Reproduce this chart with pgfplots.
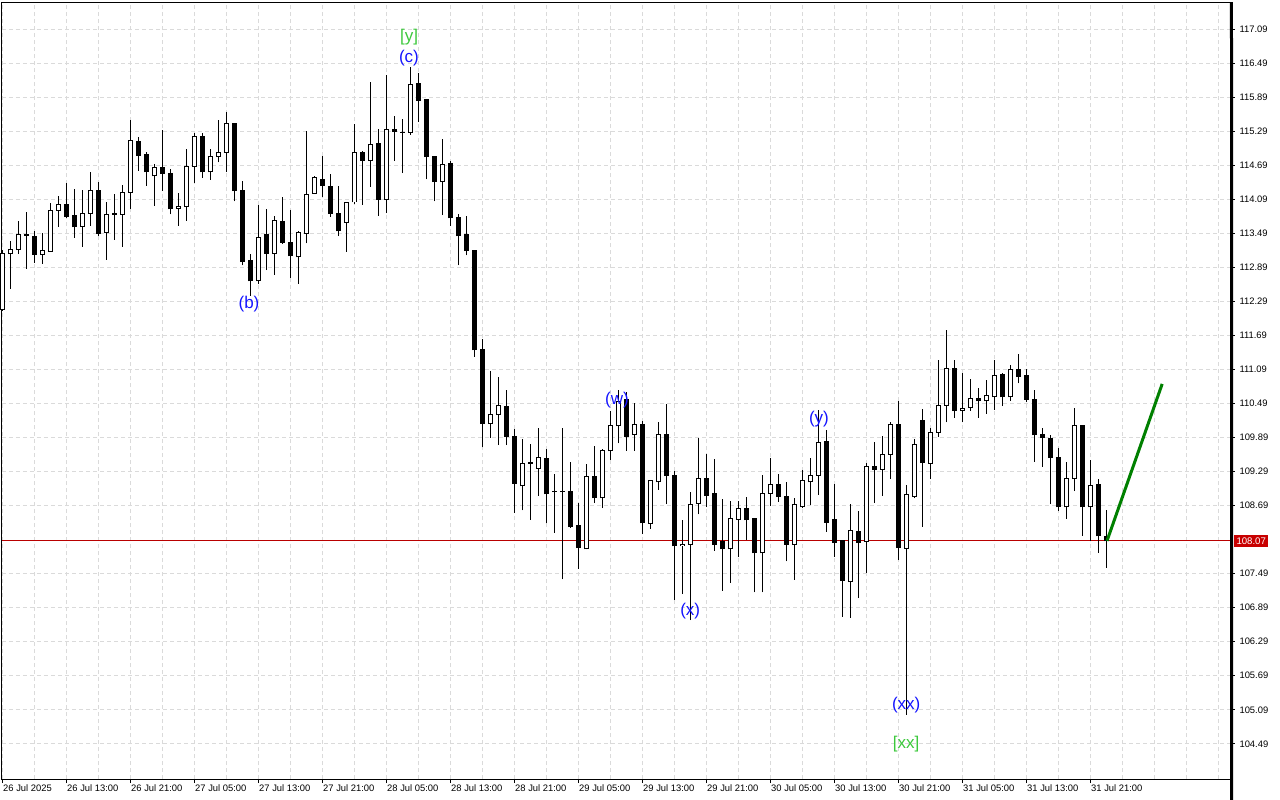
\documentclass[border=0pt]{standalone}
\usepackage{pgfplots}
\pgfplotsset{compat=1.18}
\usepackage{pgfplotstable}
\usepackage{fontspec}
\setmainfont{Liberation Sans}
\definecolor{pricered}{RGB}{200,0,0}
\definecolor{linered}{RGB}{185,0,0}
\definecolor{wblue}{RGB}{20,20,255}
\definecolor{wgreen}{RGB}{60,200,60}
\definecolor{arrowgreen}{RGB}{0,128,0}
\definecolor{gridgray}{RGB}{218,218,218}
\pgfplotstableread{
i o h l c
0 112.16 113.20 112.13 113.15
1 113.14 113.36 112.52 113.21
2 113.21 113.71 113.14 113.48
3 113.48 113.87 112.87 113.46
4 113.45 113.54 112.98 113.13
5 113.13 113.50 112.96 113.19
6 113.18 114.04 113.17 113.90
7 113.90 114.16 113.61 114.01
8 114.01 114.38 113.77 113.79
9 113.82 114.28 113.42 113.61
10 113.62 114.26 113.26 113.85
11 113.85 114.58 113.63 114.26
12 114.26 114.40 113.45 113.50
13 113.51 114.05 113.03 113.83
14 113.83 114.19 113.38 113.84
15 113.83 114.35 113.26 114.22
16 114.22 115.50 113.93 115.13
17 115.11 115.20 114.60 114.87
18 114.88 114.94 114.34 114.58
19 114.51 114.72 113.98 114.66
20 114.66 115.32 114.25 114.55
21 114.56 114.64 113.83 113.93
22 113.94 114.20 113.63 113.97
23 113.97 114.98 113.72 114.68
24 114.68 115.26 114.39 115.21
25 115.21 115.26 114.48 114.58
26 114.58 114.98 114.44 114.85
27 114.85 115.50 114.75 114.93
28 114.93 115.63 114.58 115.44
29 115.43 115.45 114.06 114.25
30 114.26 114.42 112.93 113.00
31 113.01 113.14 112.40 112.66
32 112.66 114.00 112.60 113.43
33 113.47 113.93 112.85 113.15
34 113.15 113.80 112.77 113.73
35 113.71 114.13 113.31 113.34
36 113.34 113.90 112.71 113.10
37 113.08 113.54 112.61 113.51
38 113.50 115.31 113.32 114.19
39 114.20 114.51 114.19 114.48
40 114.45 114.86 114.14 114.34
41 114.33 114.54 113.79 113.85
42 113.85 114.33 113.45 113.54
43 113.69 114.04 113.17 114.04
44 114.05 115.42 114.01 114.93
45 114.93 114.95 114.00 114.78
46 114.79 116.16 114.32 115.07
47 115.09 115.33 113.81 114.10
48 114.10 116.29 113.86 115.33
49 115.33 115.57 114.78 115.30
50 115.28 115.51 114.56 115.28
51 115.28 116.44 115.24 116.13
52 116.14 116.32 115.47 115.84
53 115.85 115.86 114.45 114.85
54 114.86 114.87 114.06 114.41
55 114.41 115.17 113.82 114.71
56 114.73 114.77 113.63 113.77
57 113.78 113.83 112.93 113.45
58 113.47 113.80 113.11 113.19
59 113.20 113.21 111.32 111.44
60 111.44 111.64 109.72 110.14
61 110.14 111.07 109.89 110.30
62 110.30 110.97 109.76 110.46
63 110.45 110.73 109.76 109.91
64 109.92 110.04 108.57 109.09
65 109.04 109.87 108.61 109.44
66 109.45 109.78 108.44 109.44
67 109.35 110.07 108.87 109.54
68 109.53 109.69 108.38 108.90
69 108.95 109.25 108.21 108.94
70 108.95 110.06 107.39 108.94
71 108.95 109.46 108.30 108.32
72 108.35 108.73 107.58 107.95
73 107.93 109.43 107.92 109.21
74 109.21 109.74 108.74 108.83
75 108.83 109.69 108.65 109.67
76 109.66 110.36 109.50 110.10
77 110.10 110.73 109.79 110.53
78 110.56 110.70 109.66 109.91
79 109.95 110.50 109.66 110.13
80 110.13 110.19 108.19 108.39
81 108.38 109.14 108.28 109.13
82 109.11 110.16 108.97 109.95
83 109.94 110.49 108.72 109.22
84 109.23 109.31 107.03 107.98
85 107.98 108.44 107.13 108.01
86 108.01 108.93 106.67 108.72
87 108.73 109.88 108.54 109.17
88 109.17 109.60 108.67 108.87
89 108.90 109.51 107.90 108.01
90 108.06 108.81 107.19 107.93
91 107.93 108.77 107.33 108.47
92 108.45 108.77 107.79 108.64
93 108.64 108.84 108.09 108.44
94 108.46 108.46 107.16 107.86
95 107.86 109.23 107.16 108.91
96 108.91 109.54 108.69 109.07
97 109.07 109.25 108.76 108.85
98 108.86 109.11 107.71 108.01
99 108.01 108.83 107.38 108.72
100 108.67 109.32 108.65 109.13
101 109.11 109.53 108.70 109.23
102 109.23 110.38 108.88 109.81
103 109.83 110.03 108.23 108.40
104 108.44 109.07 107.79 108.04
105 108.07 108.07 106.73 107.37
106 107.35 108.72 106.71 108.26
107 108.24 108.60 107.06 108.04
108 108.06 109.44 107.51 109.39
109 109.38 109.81 108.74 109.33
110 109.33 109.92 108.87 109.60
111 109.60 110.16 109.16 110.13
112 110.13 110.53 107.73 107.95
113 107.94 109.06 105.00 108.88
114 108.85 109.87 108.82 109.77
115 110.19 110.40 108.32 109.45
116 109.44 110.07 109.16 109.99
117 109.99 111.27 109.91 110.46
118 110.46 111.79 110.16 111.11
119 111.11 111.27 110.24 110.37
120 110.37 111.03 110.16 110.41
121 110.42 110.92 110.37 110.59
122 110.59 110.76 110.24 110.54
123 110.54 110.91 110.31 110.64
124 110.61 111.27 110.38 110.98
125 111.00 111.04 110.45 110.61
126 110.61 111.17 110.54 111.10
127 111.10 111.37 110.85 110.97
128 110.98 111.10 110.52 110.57
129 110.56 110.74 109.47 109.94
130 109.95 110.06 109.38 109.89
131 109.88 109.94 108.72 109.54
132 109.55 109.71 108.60 108.67
133 108.67 109.46 108.46 109.17
134 109.17 110.41 108.95 110.10
135 110.10 110.11 108.16 108.67
136 108.67 109.49 108.06 109.04
137 109.06 109.17 107.86 108.16
138 108.14 108.61 107.60 108.07
}\candles
\begin{document}
\begin{tikzpicture}
\useasboundingbox (0,0) rectangle (1280pt,800pt);
\begin{axis}[
  at={(2pt,21pt)}, anchor=south west,
  scale only axis, width=1229pt, height=777pt,
  xmin=-0.125, xmax=153.5, ymin=103.867, ymax=117.578,
  clip=false,
  axis line style={black, line width=1pt},
  tick align=outside, major tick length=4pt, minor tick length=0pt,
  xtick pos=bottom, ytick pos=right, yticklabel pos=right,
  xtick={0,8,...,136},
  minor xtick={4,12,...,132,140,144,148,152},
  xticklabels={26 Jul 2025,26 Jul 13:00,26 Jul 21:00,27 Jul 05:00,27 Jul 13:00,27 Jul 21:00,28 Jul 05:00,28 Jul 13:00,28 Jul 21:00,29 Jul 05:00,29 Jul 13:00,29 Jul 21:00,30 Jul 05:00,30 Jul 13:00,30 Jul 21:00,31 Jul 05:00,31 Jul 13:00,31 Jul 21:00},
  ytick={104.49,105.09,105.69,106.29,106.89,107.49,108.69,109.29,109.89,110.49,111.09,111.69,112.29,112.89,113.49,114.09,114.69,115.29,115.89,116.49,117.09},
  grid=both,
  major grid style={gridgray, dash pattern=on 4pt off 3pt, line width=1pt},
  minor grid style={gridgray, dash pattern=on 4pt off 3pt, line width=1pt},
  tick style={black, line width=1pt},
  ticklabel style={font=\fontsize{9.4}{10}\selectfont},
  yticklabel style={/pgf/number format/fixed, /pgf/number format/fixed zerofill, /pgf/number format/precision=2, /pgf/number format/assume math mode=true, xshift=1pt},
  xticklabel style={anchor=north west, inner xsep=0pt, inner ysep=1pt},
]
\addplot[linered, line width=1pt, forget plot] coordinates {(-0.125,108.07) (153.5,108.07)};
% wicks
\addplot[draw=none, forget plot, error bars/.cd, y dir=plus, y explicit, error mark=none,
  error bar style={black, line width=1pt}]
  table[x=i, y=l, y error expr=\thisrow{h}-\thisrow{l}] {\candles};
% body outlines / bearish bodies
\addplot[draw=none, forget plot, error bars/.cd, y dir=plus, y explicit, error mark=none,
  error bar style={black, line width=5pt, line cap=butt}]
  table[x=i, y expr={min(\thisrow{o},\thisrow{c})-0.0088}, y error expr={abs(\thisrow{c}-\thisrow{o})+0.0176}] {\candles};
% bullish interiors
\addplot[draw=none, forget plot, error bars/.cd, y dir=plus, y explicit, error mark=none,
  error bar style={white, line width=3pt, line cap=butt}]
  table[x=i, y expr={(\thisrow{c}-\thisrow{o}>0.02) ? (\thisrow{o}+0.0088) : nan}, y error expr={\thisrow{c}-\thisrow{o}-0.0176}] {\candles};
\addplot[arrowgreen, line width=3pt, forget plot] coordinates {(138,108.07) (144.9,110.84)};
\draw[black, line width=3pt] (rel axis cs:1,0) ++(0.5pt,0) -- ([xshift=0.5pt]rel axis cs:1,1);
\node[wgreen, font=\fontsize{17}{17}\selectfont] at (axis cs:50.75,116.96) {[y]};
\node[wblue, font=\fontsize{17}{17}\selectfont] at (axis cs:50.75,116.59) {(c)};
\node[wblue, font=\fontsize{17}{17}\selectfont] at (axis cs:30.75,112.25) {(b)};
\node[wblue, font=\fontsize{17}{17}\selectfont] at (axis cs:76.75,110.56) {(w)};
\node[wblue, font=\fontsize{17}{17}\selectfont] at (axis cs:85.9,106.83) {(x)};
\node[wblue, font=\fontsize{17}{17}\selectfont] at (axis cs:102,110.22) {(y)};
\node[wblue, font=\fontsize{17}{17}\selectfont] at (axis cs:112.9,105.17) {(xx)};
\node[wgreen, font=\fontsize{17}{17}\selectfont] at (axis cs:112.9,104.49) {[xx]};
\node[fill=pricered, text=white, font=\fontsize{9.6}{10}\selectfont, anchor=west,
  minimum width=34pt, minimum height=12pt, inner sep=0pt, xshift=3pt]
  at (axis cs:153.5,108.07) {108.07};
\end{axis}
\end{tikzpicture}
\end{document}
